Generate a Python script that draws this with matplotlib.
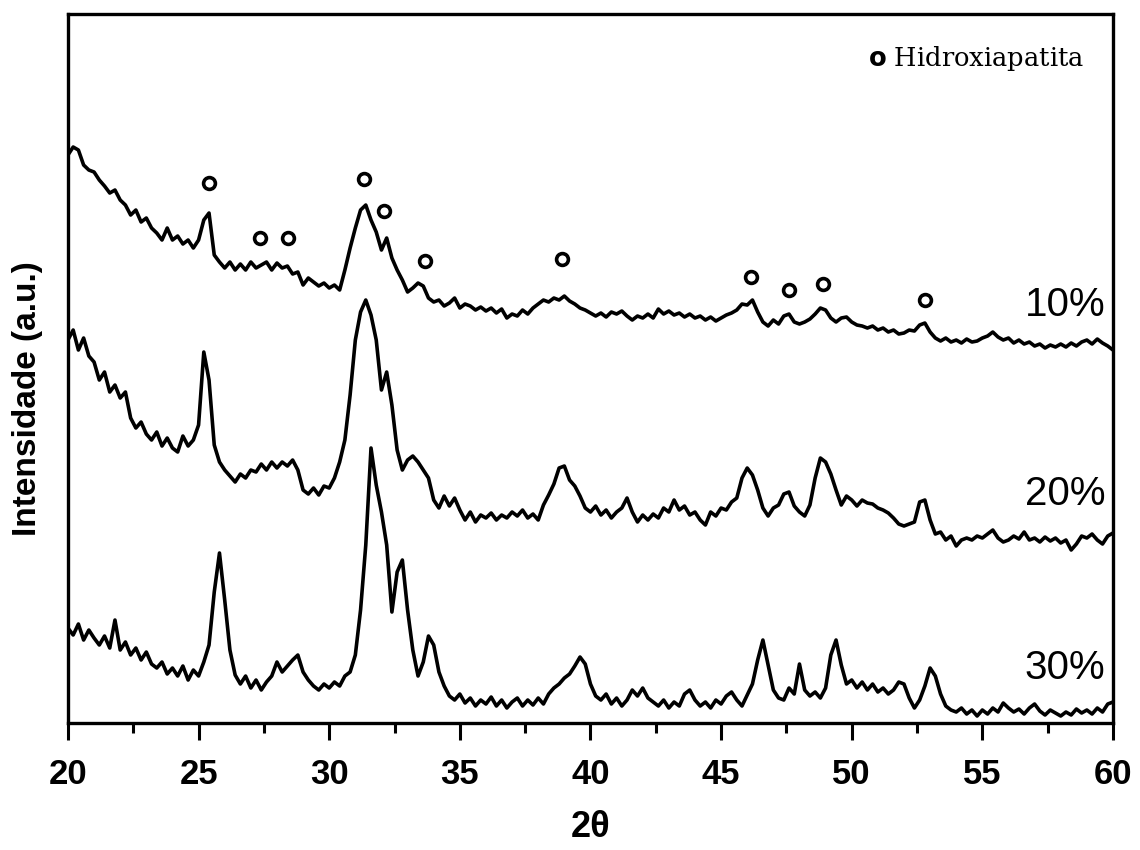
import numpy as np
import matplotlib.pyplot as plt
from matplotlib.ticker import MultipleLocator

# 2theta grid (passo 0.2 graus)
two_theta = np.arange(20.0, 60.0001, 0.2)

# intensidades (u.a.), ja empilhadas
int_10 = [568, 576, 573, 558, 553, 551, 543, 537, 530, 533,
          523, 518, 508, 513, 501, 505, 495, 490, 483, 495,
          483, 487, 479, 483, 475, 483, 503, 510, 468, 461,
          455, 461, 453, 459, 453, 461, 455, 458, 461, 453,
          460, 455, 457, 449, 451, 438, 445, 441, 437, 440,
          435, 438, 433, 453, 475, 495, 513, 518, 503, 491,
          473, 485, 465, 453, 443, 431, 435, 440, 437, 425,
          421, 423, 417, 420, 425, 415, 419, 417, 413, 416,
          412, 415, 410, 414, 405, 409, 407, 413, 409, 415,
          419, 423, 421, 425, 423, 427, 422, 419, 415, 413,
          410, 407, 410, 406, 411, 409, 412, 407, 403, 407,
          405, 409, 405, 414, 409, 412, 408, 410, 406, 409,
          405, 407, 403, 406, 402, 405, 408, 410, 413, 419,
          418, 423, 411, 401, 397, 403, 399, 407, 409, 401,
          399, 401, 404, 409, 415, 413, 405, 401, 405, 406,
          401, 398, 397, 395, 397, 393, 395, 391, 393, 389,
          390, 393, 392, 398, 400, 391, 385, 382, 385, 381,
          383, 380, 384, 381, 382, 385, 387, 391, 386, 383,
          385, 380, 383, 379, 381, 377, 379, 375, 378, 376,
          379, 376, 380, 377, 381, 383, 379, 384, 380, 377,
          373]

int_20 = [383, 393, 373, 385, 367, 361, 343, 351, 331, 338,
          325, 331, 305, 295, 301, 289, 283, 291, 277, 285,
          275, 271, 287, 277, 283, 298, 371, 343, 278, 261,
          253, 247, 241, 249, 245, 253, 251, 259, 253, 261,
          255, 261, 257, 263, 253, 233, 229, 235, 228, 237,
          235, 245, 261, 283, 328, 383, 411, 423, 408, 383,
          333, 351, 318, 273, 253, 263, 267, 261, 253, 245,
          223, 215, 227, 217, 225, 213, 203, 211, 201, 208,
          205, 210, 203, 208, 205, 211, 207, 213, 205, 209,
          203, 218, 228, 239, 255, 257, 243, 237, 227, 215,
          211, 217, 208, 213, 205, 211, 215, 225, 211, 201,
          208, 203, 209, 205, 215, 211, 223, 213, 217, 208,
          211, 203, 198, 211, 207, 215, 213, 221, 225, 245,
          255, 248, 233, 215, 207, 215, 218, 229, 231, 217,
          211, 207, 218, 245, 265, 261, 249, 233, 218, 227,
          223, 217, 223, 220, 219, 215, 213, 210, 205, 199,
          197, 199, 201, 221, 223, 203, 189, 191, 183, 187,
          177, 183, 185, 183, 187, 185, 189, 193, 185, 181,
          183, 187, 184, 191, 183, 185, 181, 186, 182, 185,
          180, 183, 173, 179, 187, 185, 189, 183, 179, 187,
          190]

int_30 = [95, 88, 99, 83, 93, 85, 78, 87, 75, 103,
          73, 81, 68, 75, 63, 71, 59, 55, 61, 49,
          55, 47, 57, 43, 53, 47, 61, 78, 131, 170,
          123, 73, 48, 39, 47, 35, 43, 33, 41, 47,
          61, 51, 57, 63, 68, 51, 43, 37, 33, 39,
          35, 41, 37, 47, 51, 68, 113, 178, 275, 238,
          211, 178, 111, 151, 163, 113, 73, 47, 61, 87,
          78, 51, 37, 27, 23, 29, 20, 25, 17, 23,
          19, 26, 17, 23, 15, 21, 25, 17, 23, 18,
          25, 19, 29, 35, 39, 45, 49, 57, 66, 59,
          39, 27, 23, 29, 19, 25, 17, 23, 33, 27,
          35, 25, 21, 17, 23, 15, 21, 17, 29, 33,
          23, 17, 21, 15, 23, 19, 27, 31, 23, 17,
          28, 39, 63, 83, 58, 33, 25, 23, 35, 29,
          59, 33, 27, 31, 25, 35, 68, 83, 58, 39,
          43, 35, 41, 33, 39, 31, 35, 29, 33, 41,
          39, 25, 15, 23, 37, 55, 47, 29, 17, 13,
          11, 15, 9, 13, 7, 13, 9, 15, 11, 20,
          15, 11, 14, 9, 15, 19, 12, 8, 13, 10,
          7, 11, 8, 14, 10, 13, 9, 15, 11, 19,
          21]

series = [("10%", int_10, 418), ("20%", int_20, 229), ("30%", int_30, 55)]

# picos de hidroxiapatita marcados com "o"
hap_2theta = [25.4, 27.35, 28.42, 31.33, 32.1, 33.67, 38.91, 46.14, 47.6, 48.9, 52.8]
hap_height = [540, 485, 485, 544, 512, 462, 464, 446, 433, 439, 423]

fig = plt.figure(figsize=(11.4, 8.5), dpi=100)
ax = fig.add_axes([0.0596, 0.1494, 0.9167, 0.8341])

for label, vals, ylab in series:
    ax.plot(two_theta, vals, color='black', lw=2.6)
    ax.text(59.7, ylab, label, ha='right', va='center', fontsize=29,
            family=['Liberation Sans', 'DejaVu Sans'])

ax.plot(hap_2theta, hap_height, linestyle='none', marker='o', ms=8.5,
        mfc='white', mec='black', mew=2.6)

ax.text(0.9725, 0.937, r'$\mathbf{o}$ Hidroxiapatita', transform=ax.transAxes,
        ha='right', va='center', fontsize=18.5, family='DejaVu Serif')

ax.set_xlim(20, 60)
ax.set_ylim(0, 709)
ax.xaxis.set_major_locator(MultipleLocator(5))
ax.xaxis.set_minor_locator(MultipleLocator(2.5))
ax.set_yticks([])
ax.tick_params(axis='x', which='major', direction='out', length=12, width=2.2, pad=13)
ax.tick_params(axis='x', which='minor', direction='out', length=7, width=2.2)
for lab in ax.get_xticklabels():
    lab.set_fontsize(25)
    lab.set_fontweight('bold')
    lab.set_family(['Liberation Sans', 'DejaVu Sans'])
for sp in ax.spines.values():
    sp.set_linewidth(2.4)

ax.set_xlabel('2θ', fontsize=26, fontweight='bold', labelpad=14,
              family=['Liberation Sans', 'DejaVu Sans'])
ax.set_ylabel('Intensidade (a.u.)', fontsize=24, fontweight='bold',
              family=['Liberation Sans', 'DejaVu Sans'])
ax.yaxis.set_label_coords(-0.024, 0.457)

fig.savefig('out.png', dpi=100)
